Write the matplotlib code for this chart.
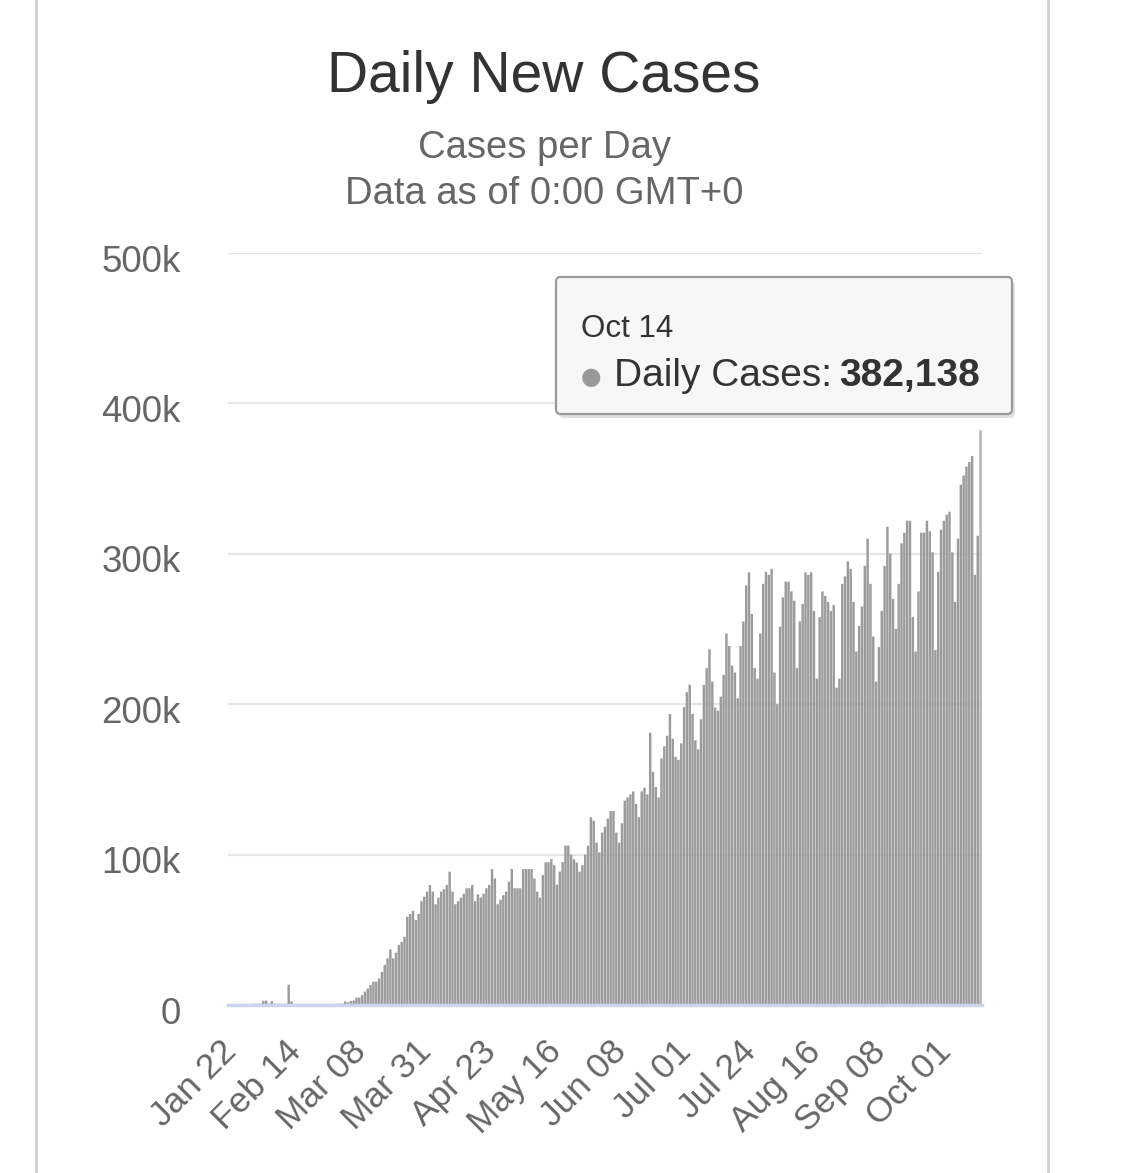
import numpy as np
import matplotlib
matplotlib.use("Agg")
import matplotlib.pyplot as plt
from matplotlib.patches import FancyBboxPatch
from matplotlib.transforms import ScaledTranslation

plt.rcParams['font.family'] = ['Liberation Sans', 'DejaVu Sans']

# daily new cases in thousands, one value per day from Jan 22 to Oct 14
daily_k = [
    0.1, 0.1, 0.2, 0.3, 0.4, 0.5, 0.6, 0.7, 0.7, 0.8,
    0.8, 0.9, 2.8, 2.9, 0.9, 2.6, 0.9, 0.8, 0.8, 0.7,
    0.8, 13.5, 2.4, 0.6, 0.5, 0.4, 0.4, 0.3, 0.3, 0.4,
    0.4, 0.4, 0.5, 0.5, 0.6, 0.6, 0.7, 0.7, 0.8, 0.8,
    0.9, 2.4, 1.8, 2.6, 3.0, 4.9, 4.9, 6.6, 8.9, 11.0,
    13.3, 15.5, 15.5, 17.7, 22.0, 26.6, 31.0, 37.0, 31.0, 34.8,
    40.0, 42.0, 45.4, 58.7, 60.5, 62.7, 56.5, 60.5, 69.0, 72.0,
    75.4, 79.8, 75.4, 67.0, 71.4, 75.4, 77.0, 79.8, 88.7, 75.4,
    67.0, 69.0, 71.4, 74.0, 77.6, 77.6, 79.8, 69.0, 73.6, 71.4,
    74.0, 77.6, 79.8, 90.4, 84.2, 67.0, 70.0, 73.0, 75.4, 82.0,
    90.4, 77.6, 77.6, 77.6, 90.4, 90.4, 90.4, 90.4, 84.2, 75.4,
    71.4, 86.4, 94.9, 95.0, 97.0, 93.0, 80.0, 88.7, 95.0, 106.0,
    106.0, 100.0, 97.0, 94.7, 88.7, 93.0, 100.0, 106.0, 124.8, 122.6,
    108.0, 101.5, 114.6, 118.6, 124.0, 129.0, 129.0, 114.6, 108.0, 120.8,
    135.9, 138.0, 140.0, 142.0, 133.7, 124.8, 142.0, 144.5, 140.0, 181.0,
    155.0, 145.0, 138.0, 164.0, 172.0, 179.0, 193.5, 177.0, 165.0, 163.0,
    174.0, 198.0, 208.0, 213.0, 193.5, 176.0, 170.0, 190.0, 212.8, 224.0,
    236.5, 215.0, 197.7, 195.7, 205.0, 219.5, 247.0, 238.7, 225.6, 221.0,
    204.0, 238.7, 255.0, 279.0, 287.7, 260.0, 224.0, 217.0, 247.0, 280.0,
    288.0, 286.0, 290.0, 221.0, 200.0, 251.6, 271.0, 281.5, 281.5, 275.0,
    268.8, 224.0, 255.0, 266.7, 287.7, 286.0, 287.7, 262.0, 217.0, 258.0,
    275.0, 272.0, 268.0, 262.0, 266.0, 211.0, 217.0, 280.0, 285.0, 295.0,
    290.0, 268.0, 235.0, 252.0, 265.0, 292.0, 310.0, 280.0, 245.0, 215.0,
    238.0, 262.0, 292.0, 318.0, 300.0, 270.0, 250.0, 280.0, 307.0, 314.0,
    322.0, 322.0, 258.0, 235.0, 275.0, 314.0, 314.0, 322.0, 315.0, 301.0,
    236.0, 288.0, 316.0, 322.0, 326.0, 328.0, 301.0, 268.0, 310.0, 346.0,
    352.0, 358.0, 361.0, 365.0, 286.0, 312.0, 382.138,
]
assert len(daily_k) == 267

x_labels = ["Jan 22", "Feb 14", "Mar 08", "Mar 31", "Apr 23", "May 16",
            "Jun 08", "Jul 01", "Jul 24", "Aug 16", "Sep 08", "Oct 01"]
label_step = 23  # one label every 23 days

y_ticks = [0, 100000, 200000, 300000, 400000, 500000]
y_labels = ["0", "100k", "200k", "300k", "400k", "500k"]

tooltip_date = "Oct 14"
tooltip_series = "Daily Cases"

W, H = 1124, 1173
fig = plt.figure(figsize=(W / 100, H / 100), dpi=100)


def fx(px):
    return px / W


def fy(py):
    return 1 - py / H


ax = fig.add_axes([fx(228), fy(1005), (982 - 228) / W, (1005 - 253) / H])

values = np.array(daily_k) * 1000
days = np.arange(len(values))
colors = ['#9b9b9b'] * len(values)
colors[-1] = '#b3b3b3'  # hovered point
bars = ax.bar(days, values, width=0.86, color=colors, linewidth=0, zorder=2)
for b in bars:
    b.set_snap(False)

ax.set_xlim(-0.5, len(values) - 0.5)
ax.set_ylim(0, 500000)

for s in ax.spines.values():
    s.set_visible(False)

ax.set_yticks(y_ticks)
ax.set_yticklabels(y_labels)
ax.yaxis.grid(True, color='#e6e6e6', linewidth=1.6, zorder=0)
ax.set_axisbelow(True)
ax.tick_params(axis='y', length=0, pad=34, labelsize=26.5, labelcolor='#666666')
for lab in ax.get_yticklabels():
    lab.set_transform(lab.get_transform() + ScaledTranslation(0, -0.05, fig.dpi_scale_trans))

ax.axhline(0, color='#ccd6eb', linewidth=2.5, zorder=3, clip_on=False)

ax.set_xticks(days[::label_step])
ax.set_xticklabels(x_labels, rotation=45, ha='right', va='center',
                   rotation_mode='anchor')
ax.tick_params(axis='x', length=0, pad=30, labelsize=25.5, labelcolor='#666666')
for lab in ax.get_xticklabels():
    lab.set_transform(lab.get_transform() + ScaledTranslation(0.02, 0, fig.dpi_scale_trans))

# titles
fig.text(fx(544), fy(77), "Daily New Cases", ha='center', va='center',
         fontsize=41, color='#333333')
fig.text(fx(544), fy(148), "Cases per Day", ha='center', va='center',
         fontsize=27.5, color='#666666')
fig.text(fx(544), fy(194), "Data as of 0:00 GMT+0", ha='center', va='center',
         fontsize=27.5, color='#666666')

# side frame lines
for xl in (36, 1048):
    fig.add_artist(plt.Line2D([fx(xl), fx(xl)], [0, 1], color='#d0d0d0',
                              linewidth=2, transform=fig.transFigure))

# tooltip
bx0, by0, bx1, by1 = 556, 277, 1012, 414
shadow = FancyBboxPatch((fx(bx0 + 3), fy(by1 + 4)), fx(bx1 - bx0), (by1 - by0) / H,
                        boxstyle="round,pad=0,rounding_size=0.004",
                        transform=fig.transFigure, facecolor='#000000',
                        alpha=0.12, edgecolor='none', zorder=9)
fig.add_artist(shadow)
box = FancyBboxPatch((fx(bx0), fy(by1)), fx(bx1 - bx0), (by1 - by0) / H,
                     boxstyle="round,pad=0,rounding_size=0.004",
                     transform=fig.transFigure, facecolor='#f7f7f7',
                     edgecolor='#9a9a9a', linewidth=1.6, zorder=10)
fig.add_artist(box)
fig.text(fx(581), fy(329), tooltip_date, ha='left', va='center',
         fontsize=22.5, color='#333333', zorder=11)
fig.text(fx(591), fy(377), "\u25CF", ha='center', va='center',
         fontsize=17, color='#999999', zorder=11, family=['DejaVu Sans'])
fig.text(fx(614), fy(376), tooltip_series + ":", ha='left', va='center',
         fontsize=28, color='#333333', zorder=11)
fig.text(fx(980), fy(376), f"{int(round(values[-1])):,}", ha='right', va='center',
         fontsize=28, color='#333333', fontweight='bold', zorder=11)

fig.savefig("out.png", dpi=100, facecolor='white')
